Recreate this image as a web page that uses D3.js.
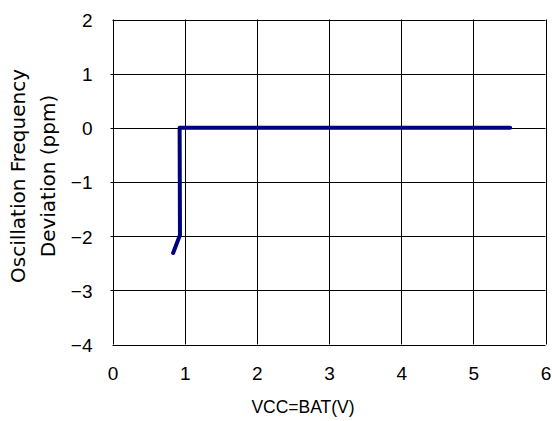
<!DOCTYPE html>
<html><head><meta charset="utf-8">
<script src="https://cdn.jsdelivr.net/npm/d3@7"></script>
<style>html,body{margin:0;padding:0;background:#fff;}svg{display:block;}</style>
</head><body>
<svg id="chart" width="552" height="421"></svg>
<script>
const xTicks = [0, 1, 2, 3, 4, 5, 6];
const yTicks = [-4, -3, -2, -1, 0, 1, 2];
const vccValues = [0.84, 0.935, 0.93, 5.51];
const deviationValues = [-2.31, -1.98, 0, 0];
const xTitle = "VCC=BAT(V)";
const yTitleLines = ["Oscillation Frequency", "Deviation (ppm)"];

const svg = d3.select("#chart");
const font = "'Liberation Sans', Arial, sans-serif";
const x = d3.scaleLinear().domain([0, 6]).range([112.5, 545.5]);
const y = d3.scaleLinear().domain([-4, 2]).range([344.5, 19.5]);

const g = svg.append("g");
// grid
g.selectAll(".vg").data(xTicks).join("line")
  .attr("x1", d => Math.round(x(d)) + 0.5).attr("x2", d => Math.round(x(d)) + 0.5)
  .attr("y1", y(2)).attr("y2", y(-4))
  .attr("stroke", "#000").attr("stroke-width", 1);
g.selectAll(".hg").data(yTicks).join("line")
  .attr("y1", d => Math.round(y(d)) + 0.5).attr("y2", d => Math.round(y(d)) + 0.5)
  .attr("x1", d => x(0) - ((d === -4 || d === 2) ? 0 : 2)).attr("x2", x(6))
  .attr("stroke", "#000").attr("stroke-width", 1);

// axes labels via d3 axes (lines hidden)
const xAxis = svg.append("g").attr("transform", `translate(0,${y(-4)})`)
  .call(d3.axisBottom(x).tickValues(xTicks).tickSize(0).tickPadding(22).tickFormat(d3.format("d")));
const yAxis = svg.append("g").attr("transform", `translate(${x(0)},0)`)
  .call(d3.axisLeft(y).tickValues(yTicks).tickSize(0).tickPadding(20).tickFormat(d => d < 0 ? "\u2212" + Math.abs(d) : d));
[xAxis, yAxis].forEach(a => {
  a.select(".domain").remove();
  a.selectAll("text").attr("font-family", font).attr("font-size", 19).attr("fill", "#000");
});
yAxis.selectAll("text").attr("dy", "0.36em");

// line
const line = d3.line().x((d, i) => x(vccValues[i])).y((d, i) => y(deviationValues[i]));
svg.append("path").datum(vccValues).attr("d", line)
  .attr("fill", "none").attr("stroke", "#000080").attr("stroke-width", 4)
  .attr("stroke-linecap", "round").attr("stroke-linejoin", "round");

// titles
svg.append("text").attr("x", 303).attr("y", 413).attr("text-anchor", "middle")
  .attr("font-family", font).attr("font-size", 17.5).attr("fill", "#000").text(xTitle);
const yt = svg.append("text").attr("transform", "translate(25,176) rotate(-90)")
  .attr("text-anchor", "middle").attr("font-family", "'DejaVu Sans', sans-serif").attr("font-size", 20).attr("fill", "#000");
yTitleLines.forEach((t, i) => yt.append("tspan").attr("x", 0).attr("y", i * 30).text(t));
</script>
</body></html>
